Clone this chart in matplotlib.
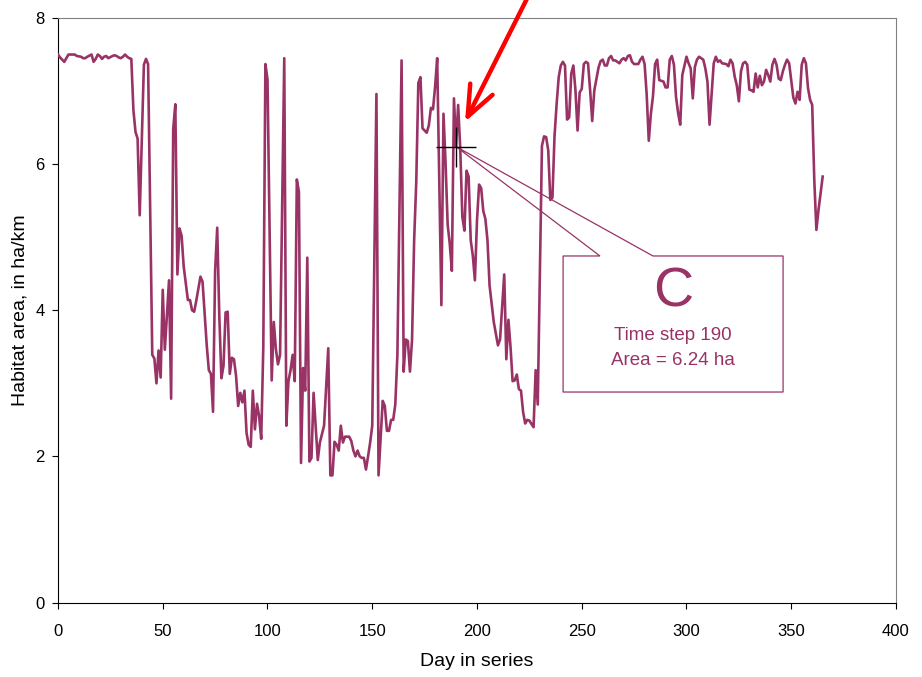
import matplotlib
matplotlib.use("Agg")
import matplotlib.pyplot as plt
from matplotlib.patches import Polygon

plt.rcParams['font.family'] = ['Liberation Sans', 'DejaVu Sans']

# day in series, habitat area (ha/km)
days = [0, 1, 3, 4, 5, 6, 8, 9, 11, 12, 13, 14, 16, 17, 18, 19, 20, 21, 22, 23,
        24, 26, 27, 28, 29, 30, 31, 32, 33, 34, 35, 36, 37, 38, 39, 41, 42, 43, 45, 46,
        47, 48, 49, 50, 51, 53, 54, 55, 56, 57, 58, 59, 60, 62, 63, 64, 65, 66, 68, 69,
        71, 72, 73, 74, 75, 76, 77, 78, 79, 80, 81, 82, 83, 84, 85, 86, 87, 88, 89, 90,
        91, 92, 93, 94, 95, 96, 97, 98, 99, 100, 102, 103, 104, 105, 106, 108, 109, 110, 111, 112,
        113, 114, 115, 116, 117, 118, 119, 120, 121, 122, 123, 124, 125, 127, 129, 130, 131, 132, 133, 134,
        135, 136, 137, 139, 140, 141, 142, 143, 144, 145, 146, 147, 148, 149, 150, 152, 153, 155, 156, 157,
        158, 159, 160, 161, 162, 164, 165, 166, 167, 168, 169, 170, 171, 172, 173, 174, 176, 177, 178, 179,
        180, 181, 183, 184, 185, 186, 187, 188, 189, 190, 191, 192, 193, 194, 195, 196, 197, 198, 199, 200,
        201, 202, 203, 204, 205, 206, 208, 209, 210, 211, 213, 214, 215, 216, 217, 218, 219, 220, 221, 222,
        223, 224, 225, 227, 228, 229, 231, 232, 233, 234, 235, 236, 237, 238, 239, 240, 241, 242, 243, 244,
        245, 246, 247, 248, 249, 250, 251, 252, 253, 254, 255, 256, 258, 259, 260, 261, 262, 263, 264, 265,
        266, 268, 269, 270, 271, 272, 273, 274, 275, 277, 278, 279, 280, 281, 282, 283, 284, 285, 286, 287,
        289, 290, 291, 292, 293, 294, 295, 296, 297, 298, 300, 301, 302, 303, 304, 305, 306, 308, 309, 310,
        311, 312, 313, 314, 315, 316, 317, 319, 320, 321, 322, 323, 324, 325, 326, 327, 328, 329, 330, 331,
        332, 333, 334, 335, 336, 337, 338, 339, 340, 341, 342, 343, 344, 345, 346, 347, 348, 349, 350, 351,
        352, 353, 354, 355, 356, 357, 358, 359, 360, 361, 362, 363, 364, 365]
area = [7.50, 7.46, 7.40, 7.45, 7.50, 7.50, 7.50, 7.48, 7.47, 7.45, 7.45, 7.47, 7.50, 7.40, 7.44, 7.50, 7.48, 7.44, 7.47, 7.48,
        7.45, 7.48, 7.49, 7.48, 7.46, 7.45, 7.47, 7.50, 7.47, 7.45, 7.44, 6.74, 6.44, 6.35, 5.30, 7.36, 7.44, 7.37, 3.39, 3.34,
        3.00, 3.45, 3.08, 4.28, 3.46, 4.41, 2.79, 6.48, 6.82, 4.49, 5.12, 5.02, 4.60, 4.14, 4.14, 4.00, 3.98, 4.13, 4.46, 4.39,
        3.52, 3.18, 3.13, 2.61, 4.54, 5.13, 3.92, 3.07, 3.24, 3.97, 3.98, 3.13, 3.35, 3.33, 3.10, 2.69, 2.87, 2.74, 2.90, 2.32,
        2.16, 2.13, 2.90, 2.37, 2.72, 2.55, 2.24, 3.50, 7.37, 7.16, 3.04, 3.84, 3.47, 3.26, 3.39, 7.45, 2.42, 3.03, 3.18, 3.39,
        3.03, 5.79, 5.62, 1.91, 3.21, 2.90, 4.72, 1.93, 1.98, 2.87, 2.40, 1.95, 2.19, 2.42, 3.48, 1.74, 1.74, 2.20, 2.16, 2.08,
        2.42, 2.19, 2.27, 2.27, 2.21, 2.08, 2.00, 2.08, 2.00, 1.98, 1.98, 1.82, 2.00, 2.19, 2.42, 6.96, 1.74, 2.76, 2.69, 2.35,
        2.35, 2.50, 2.50, 2.71, 3.39, 7.42, 3.16, 3.60, 3.58, 3.16, 3.60, 4.96, 5.75, 7.11, 7.19, 6.49, 6.43, 6.53, 6.77, 6.75,
        7.06, 7.45, 4.07, 6.69, 6.01, 5.17, 4.91, 4.54, 6.90, 6.24, 6.81, 6.22, 5.28, 5.09, 5.91, 5.83, 4.96, 4.75, 4.41, 5.23,
        5.72, 5.67, 5.36, 5.25, 4.96, 4.34, 3.84, 3.68, 3.52, 3.60, 4.49, 3.33, 3.87, 3.50, 3.03, 3.04, 3.12, 2.92, 2.90, 2.61,
        2.45, 2.50, 2.49, 2.40, 3.18, 2.71, 6.25, 6.38, 6.37, 6.19, 5.51, 5.54, 6.38, 6.82, 7.19, 7.35, 7.40, 7.35, 6.61, 6.64,
        7.24, 7.35, 7.01, 6.46, 6.98, 7.03, 7.37, 7.40, 7.38, 7.01, 6.59, 7.01, 7.32, 7.41, 7.43, 7.35, 7.35, 7.45, 7.48, 7.42,
        7.42, 7.38, 7.43, 7.45, 7.42, 7.48, 7.49, 7.40, 7.37, 7.37, 7.43, 7.47, 7.37, 6.95, 6.32, 6.69, 6.93, 7.37, 7.43, 7.15,
        7.13, 7.05, 7.05, 7.43, 7.48, 7.36, 6.92, 6.70, 6.54, 7.22, 7.47, 7.38, 7.31, 6.90, 7.33, 7.43, 7.47, 7.43, 7.31, 7.13,
        6.54, 6.97, 7.38, 7.47, 7.40, 7.42, 7.38, 7.37, 7.34, 7.43, 7.38, 7.20, 7.08, 6.86, 7.27, 7.38, 7.40, 7.36, 7.02, 7.01,
        6.99, 7.24, 7.05, 7.21, 7.08, 7.13, 7.29, 7.22, 7.13, 7.36, 7.44, 7.36, 7.17, 7.15, 7.27, 7.36, 7.43, 7.38, 7.15, 6.91,
        6.83, 6.99, 6.88, 7.36, 7.45, 7.38, 7.04, 6.88, 6.81, 5.78, 5.10, 5.37, 5.60, 5.83]

step = 190
step_area = 6.24
plum = '#993366'

fig = plt.figure(figsize=(9.22, 6.77), dpi=100)
ax = fig.add_axes([0.0629, 0.110, 0.9089, 0.8634])

ax.plot(days, area, color=plum, lw=1.9, zorder=3)

ax.set_xlim(0, 400)
ax.set_ylim(0, 8)
ax.set_xticks(range(0, 401, 50))
ax.set_yticks(range(0, 9, 2))
ax.tick_params(direction='out', length=4.5, width=0.8, labelsize=12)
ax.tick_params(axis='x', pad=11)
ax.tick_params(axis='y', pad=5)
ax.spines['top'].set_color('#808080')
ax.spines['right'].set_color('#808080')
ax.set_xlabel('Day in series', fontsize=14, labelpad=10)
ax.set_ylabel('Habitat area, in ha/km', fontsize=14, labelpad=5)

# crosshair on the chosen time step
ax.plot([step], [step_area], marker='+', color='black', ms=29, mew=1.0, zorder=4)

# callout box with pointer to the time step
callout = Polygon([(258.7, 4.743), (241.1, 4.743), (241.1, 2.881), (346.1, 2.881),
                   (346.1, 4.743), (284.0, 4.743), (step, step_area)],
                  closed=True, facecolor='none', edgecolor=plum, lw=0.9, zorder=2)
ax.add_patch(callout)
ax.text(293.6, 4.24, 'C', color=plum, fontsize=40, ha='center', va='center')
ax.text(293.6, 3.66, 'Time step %d' % step, color=plum, fontsize=13.5, ha='center', va='center')
ax.text(293.6, 3.31, 'Area = %.2f ha' % step_area, color=plum, fontsize=13.5, ha='center', va='center')

# red arrow coming in from above the plot
ax.annotate('', xy=(194.3, 6.58), xycoords='data',
            xytext=(0.5745, 1.01), textcoords='figure fraction',
            arrowprops=dict(arrowstyle='->, head_length=1.1, head_width=0.45',
                            mutation_scale=20, color='red', lw=3.2,
                            shrinkA=0, shrinkB=0),
            annotation_clip=False, zorder=5)

fig.savefig('out.png', dpi=100)
